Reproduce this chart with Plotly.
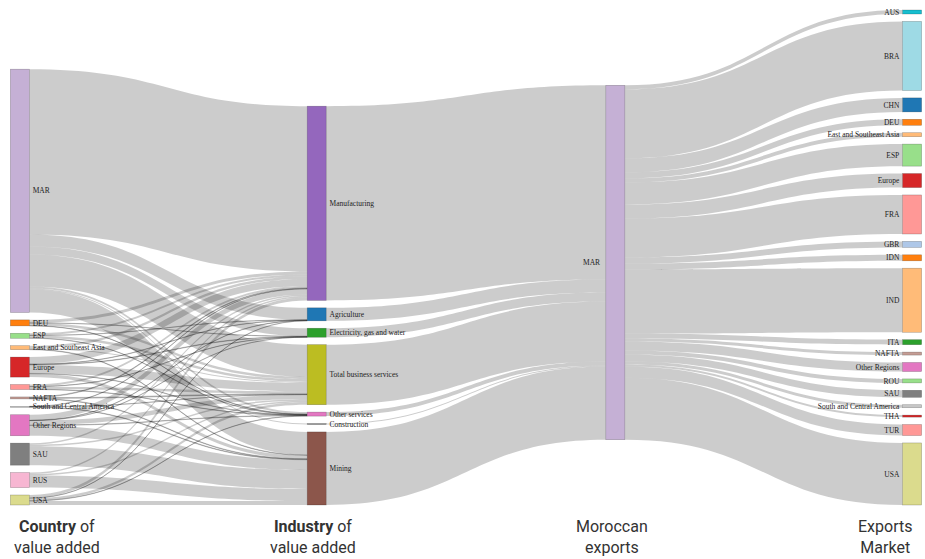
import plotly.graph_objects as go

# Country of value added (left column)
countries = ["MAR", "DEU", "ESP", "East and Southeast Asia", "Europe", "FRA", "NAFTA",
             "South and Central America", "Other Regions", "SAU", "RUS", "USA"]
country_colors = ["#c5b0d5", "#ff7f0e", "#98df8a", "#ffbb78", "#d62728", "#ff9896", "#c49c94",
                  "#c7c7c7", "#e377c2", "#7f7f7f", "#f7b6d2", "#dbdb8d"]

# Industry of value added (middle column)
industries = ["Manufacturing", "Agriculture", "Electricity, gas and water", "Total business services",
              "Other services", "Construction", "Mining"]
industry_colors = ["#9467bd", "#1f77b4", "#2ca02c", "#bcbd22", "#e377c2", "#7f7f7f", "#8c564b"]

# value added by country, one list per industry (same order as `countries`)
manufacturing = [165, 3, 2, 2.5, 7, 2, 0.7, 0.3, 5.5, 1.5, 1.5, 3]
agriculture = [12, 0, 0.2, 0, 0.3, 0, 0, 0, 0.3, 0, 0, 0.2]
electricity = [8, 0.2, 0, 0, 0.5, 0.2, 0, 0, 0.1, 0, 0, 0]
business_services = [32, 2.5, 2.5, 1, 8.5, 2.5, 0.8, 0.2, 4.5, 1.5, 1.5, 2.5]
other_services = [2, 0.3, 0.3, 0, 0.4, 0.3, 0, 0, 0.4, 0, 0, 0.3]
construction = [1, 0, 0, 0, 0, 0, 0, 0, 0, 0, 0, 0]
mining = [23, 0, 0, 0.5, 3.3, 0, 0.5, 0.5, 10.2, 19, 12, 4]
by_industry = [manufacturing, agriculture, electricity, business_services,
               other_services, construction, mining]

# Export markets (right column)
markets = ["AUS", "BRA", "CHN", "DEU", "East and Southeast Asia", "ESP", "Europe", "FRA", "GBR",
           "IDN", "IND", "ITA", "NAFTA", "Other Regions", "ROU", "SAU",
           "South and Central America", "THA", "TUR", "USA"]
market_values = [4, 69, 14, 6, 4, 22, 14, 39, 6, 6, 64, 5, 3, 9, 4, 7, 3, 2, 11, 62]
market_colors = ["#17becf", "#9edae5", "#1f77b4", "#ff7f0e", "#ffbb78", "#98df8a", "#d62728",
                 "#ff9896", "#aec7e8", "#ff7f0e", "#ffbb78", "#2ca02c", "#c49c94", "#e377c2",
                 "#98df8a", "#7f7f7f", "#c7c7c7", "#d62728", "#ff9896", "#dbdb8d"]

W, H = 925, 559
margin = dict(l=19, r=12, t=10, b=54)
PAD = 7.4
THICK = 19
dom_w = W - margin["l"] - margin["r"]
dom_h = H - margin["t"] - margin["b"]

# ---- links ----
n_c, n_i = len(countries), len(industries)
mar_idx = n_c + n_i
src, tgt, val = [], [], []
for j, row in enumerate(by_industry):
    for i, v in enumerate(row):
        if v > 0:
            src.append(i)
            tgt.append(n_c + j)
            val.append(v)
for j, row in enumerate(by_industry):
    src.append(n_c + j)
    tgt.append(mar_idx)
    val.append(sum(row))
for k, v in enumerate(market_values):
    src.append(mar_idx)
    tgt.append(mar_idx + 1 + k)
    val.append(v)

# ---- node placement (same scale rule as d3-sankey) ----
col_left = [sum(r[i] for r in by_industry) for i in range(n_c)]
col_mid = [sum(r) for r in by_industry]
col_mar = [sum(market_values)]
columns = [col_left, col_mid, col_mar, market_values]
ky = min((dom_h - (len(c) - 1) * PAD) / sum(c) for c in columns)


def stack(vals, align, shift=0):
    heights = [v * ky for v in vals]
    total = sum(heights) + (len(vals) - 1) * PAD
    start = {"top": 0, "center": (dom_h - total) / 2, "bottom": dom_h - total}[align] + shift
    ys = []
    for h in heights:
        ys.append((start + h / 2) / dom_h)
        start += h + PAD
    return ys


mar_y = stack(col_mar, "center", shift=5)
node_y = stack(col_left, "bottom") + stack(col_mid, "bottom") + mar_y + stack(market_values, "top")
node_x = [0.001] * n_c + [0.333] * n_i + [0.667] + [0.999] * len(markets)

# the Moroccan-exports label sits left of its node, drawn as an annotation below
labels = countries + industries + [""] + markets
colors = country_colors + industry_colors + ["#c5b0d5"] + market_colors

fig = go.Figure(go.Sankey(
    arrangement="fixed",
    node=dict(
        label=labels,
        color=colors,
        x=node_x,
        y=node_y,
        pad=PAD,
        thickness=THICK,
        line=dict(color="rgba(0,0,0,0.3)", width=0.6),
    ),
    link=dict(source=src, target=tgt, value=val, color="rgba(0,0,0,0.2)"),
    textfont=dict(family="Liberation Serif", size=7.5, color="#222", shadow="none"),
))

fig.add_annotation(text="MAR", x=0.667 - (THICK / 2 + 4) / dom_w, y=1 - mar_y[0],
                   xref="paper", yref="paper", xanchor="right", yanchor="middle",
                   showarrow=False,
                   font=dict(family="Liberation Serif", size=7.5, color="#222"))

cap_font = dict(family="Roboto, sans-serif", size=16, color="#333")
captions = [
    ("<b>Country</b> of<br>value added", 0.0425),
    ("<b>Industry</b> of<br>value added", 0.329),
    ("Moroccan<br>exports", 0.663),
    ("Exports<br>Market", 0.969),
]
for text, x in captions:
    fig.add_annotation(text=text, x=x, y=-0.02, xref="paper", yref="paper",
                       xanchor="center", yanchor="top", align="center", showarrow=False,
                       font=cap_font)

fig.update_layout(
    width=W,
    height=H,
    margin=margin,
    paper_bgcolor="white",
    plot_bgcolor="white",
)
fig.write_html("out.html", config={"displayModeBar": False},
               post_script="document.body.style.margin='0px';")
